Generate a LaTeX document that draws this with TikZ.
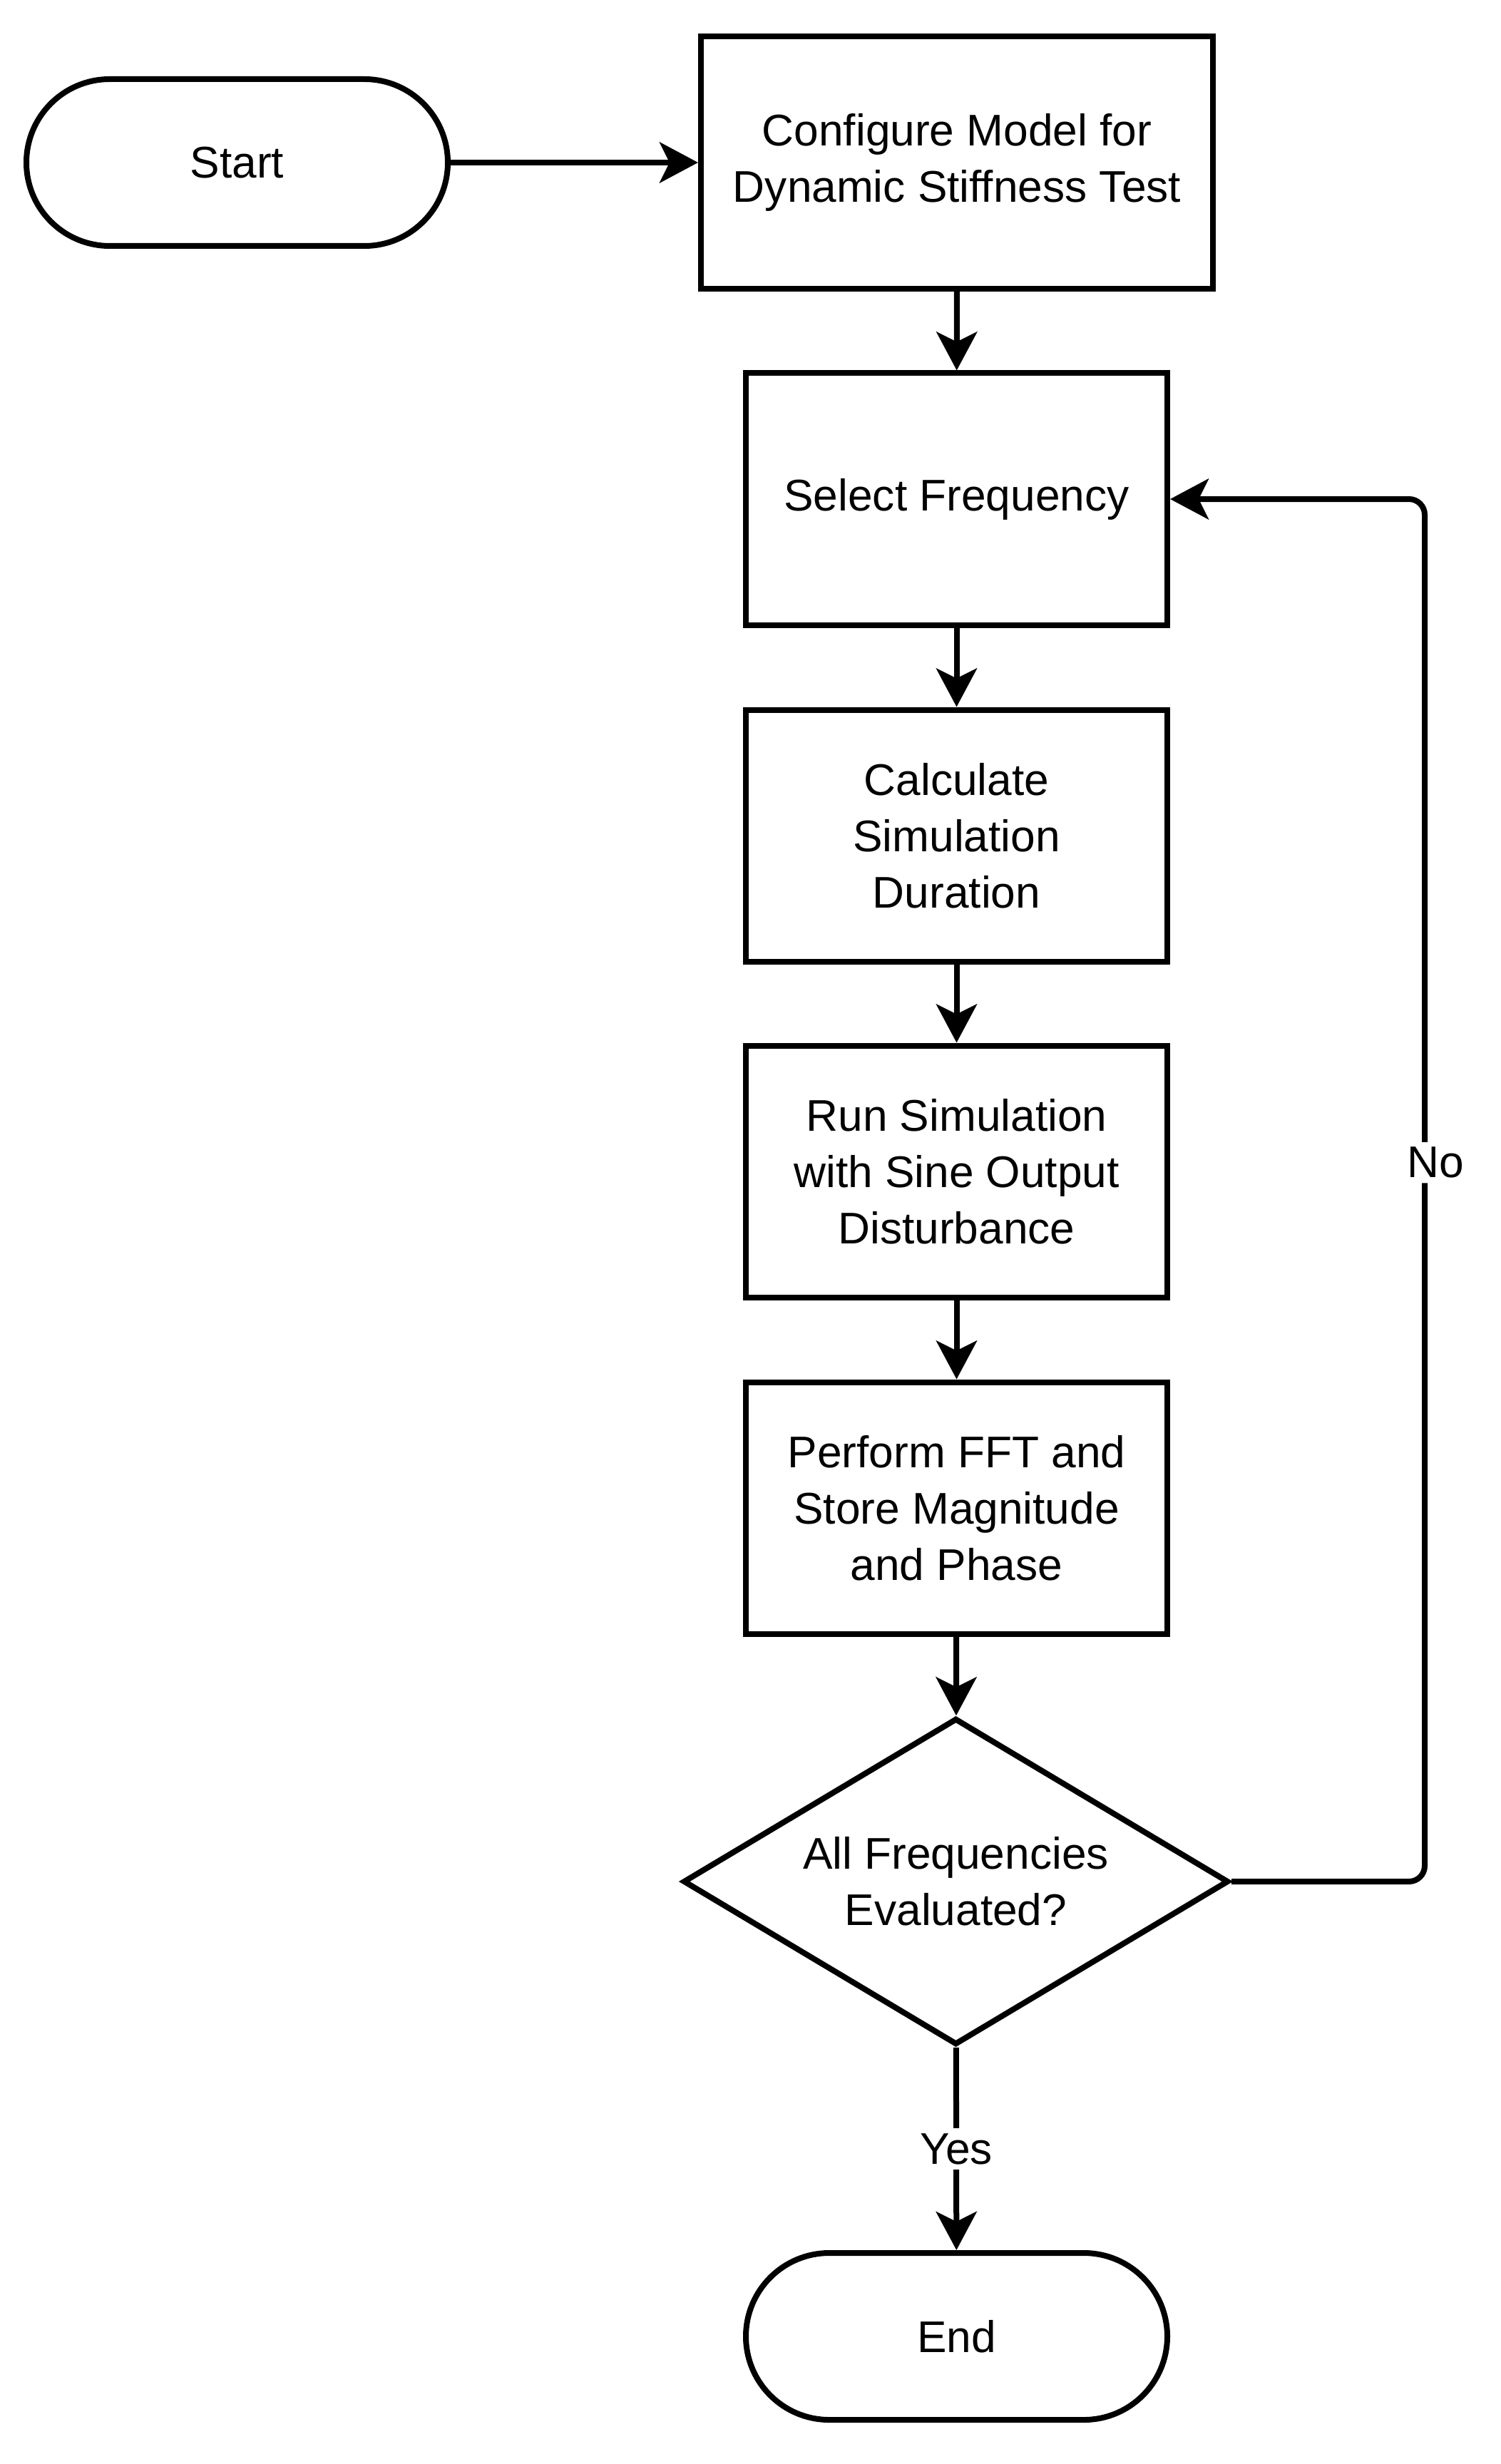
\documentclass[tikz,border=0pt]{standalone}
\usepackage{fontspec}
\setmainfont{Liberation Sans}
\usetikzlibrary{shapes.geometric,arrows.meta}

\begin{document}
\begin{tikzpicture}[
    font=\fontsize{17.7}{22.5}\selectfont,
    box/.style={draw, line width=0.08cm, align=center, minimum width=5.91cm, minimum height=3.53cm, inner sep=0pt},
    term/.style={draw, line width=0.08cm, rounded corners=1.17cm, minimum width=5.91cm, minimum height=2.34cm},
    decision/.style={draw, diamond, aspect=1.67, line width=0.08cm, align=center, minimum width=7.65cm, minimum height=4.58cm, inner sep=0pt},
    line/.style={line width=0.08cm, -{Stealth[length=0.54cm, width=0.57cm, inset=0.14cm]}}
]
    \useasboundingbox (0,0) rectangle (21.04,-34.56);
    \node[term] (start) at (3.325,-2.28) {Start};
    \node[box, minimum width=7.18cm, minimum height=3.54cm] (config) at (13.42,-2.28) {Configure Model for\\Dynamic Stiffness Test};
    \node[box] (select) at (13.415,-7.00) {Select Frequency};
    \node[box] (calc) at (13.415,-11.72) {Calculate\\Simulation\\Duration};
    \node[box] (run) at (13.415,-16.43) {Run Simulation\\with Sine Output\\Disturbance};
    \node[box] (fft) at (13.415,-21.15) {Perform FFT and\\Store Magnitude\\and Phase};
    \node[decision] (check) at (13.405,-26.39) {All Frequencies\\Evaluated?};
    \node[term] (stop) at (13.415,-32.77) {End};
    \coordinate (noturn) at (19.98,-26.39);

    \draw[line] (start) -- (config);
    \draw[line] (config) -- (select);
    \draw[line] (select) -- (calc);
    \draw[line] (calc) -- (run);
    \draw[line] (run) -- (fft);
    \draw[line] (fft) -- (check);
    \draw[line] (check) -- node[fill=white, inner sep=2pt]{Yes} (stop);
    \draw[line, rounded corners=0.22cm] (check.east) -- (noturn) |- node[pos=0.26, fill=white, inner sep=2pt, xshift=0.15cm]{No} (select.east);
\end{tikzpicture}
\end{document}
